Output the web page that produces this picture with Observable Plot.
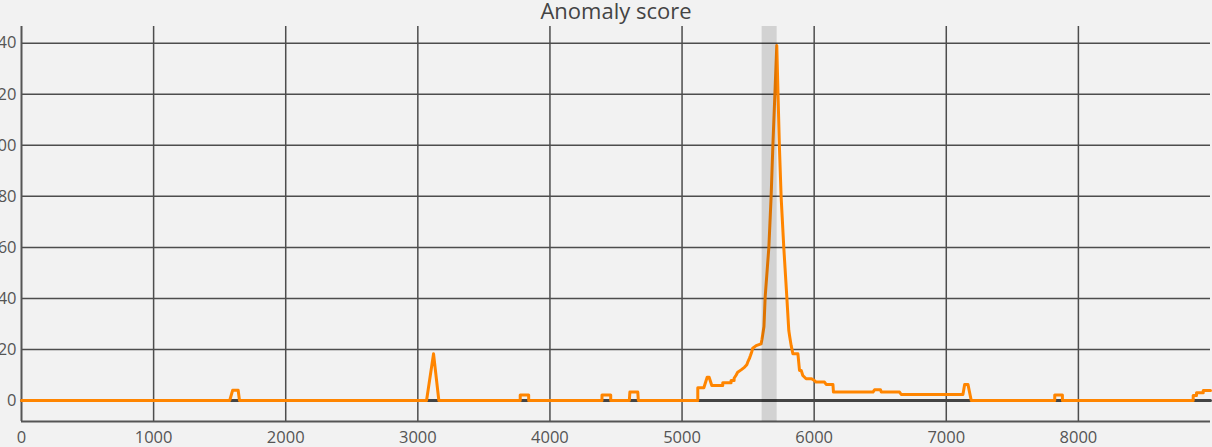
<!DOCTYPE html>
<html>
<head>
<meta charset="utf-8">
<script src="https://cdn.jsdelivr.net/npm/d3@7"></script>
<script src="https://cdn.jsdelivr.net/npm/@observablehq/plot@0.6"></script>
<style>
  html, body { margin: 0; padding: 0; background: #f2f2f2; overflow: hidden; }
  #chart svg { overflow: hidden; }
</style>
</head>
<body>
<div id="chart"></div>
<script>
// Anomaly score over time (sample index), drawn as a polyline
const scoreX = [
  0, 1576, 1598, 1640, 1650,
  3066, 3119, 3159,
  3775, 3775, 3839, 3839,
  4394, 4394, 4460, 4460,
  4601, 4605, 4665, 4669,
  5119, 5119, 5165, 5190, 5205, 5225, 5308, 5308, 5371, 5371, 5394, 5394,
  5410, 5421, 5447, 5472, 5490, 5497, 5510, 5518, 5527, 5535, 5561, 5598,
  5605, 5611, 5620, 5629, 5657, 5674, 5687, 5717,
  5727, 5737, 5750, 5770, 5793, 5808, 5815, 5826, 5839, 5877, 5889, 5902,
  5914, 5939, 5980, 6002, 6015, 6078, 6091, 6142, 6146, 6445, 6457, 6502,
  6508, 6646, 6659, 7126, 7139, 7164, 7189,
  7821, 7821, 7879, 7879,
  8869, 8869, 8894, 8894, 8945, 8945, 9000
];
const scoreY = [
  0, 0, 4, 4, 0,
  0, 18.3, 0,
  0, 2.2, 2.2, 0,
  0, 2.2, 2.2, 0,
  0, 3.3, 3.3, 0,
  0, 5, 5, 9.1, 9.1, 5.9, 5.9, 7, 7, 7.8, 7.8, 8.7,
  10, 11.1, 12, 13, 14, 15, 16.5, 17.6, 19, 20.5, 21.5, 22.2,
  24, 26, 29, 40.5, 60, 79.7, 99.3, 139.1,
  118.8, 99.3, 79.7, 60, 40.5, 27.4, 25, 21.5, 18.3, 18.3, 11.8, 11.8,
  9.8, 8.5, 8.5, 7.8, 7.2, 7.2, 6.3, 6.3, 3.3, 3.3, 4.2, 4.2,
  3.3, 3.3, 2.35, 2.35, 6.3, 6.3, 0,
  0, 2.2, 2.2, 0,
  0, 2, 2, 3, 3, 3.9, 3.9
];

// Ground-truth label series (zero throughout)
const labelX = [0, 9000];
const labelY = [0, 0];

// Highlighted anomaly window
const windowStart = [5606];
const windowEnd = [5720];

const xTicks = [0, 1000, 2000, 3000, 4000, 5000, 6000, 7000, 8000];
const yTicks = [0, 20, 40, 60, 80, 100, 120, 140];
const title = "Anomaly score";

const scoreRows = scoreX.map((x, i) => ({x, y: scoreY[i]}));
const labelRows = labelX.map((x, i) => ({x, y: labelY[i]}));
const windowRows = windowStart.map((s, i) => ({x1: s, x2: windowEnd[i]}));

const yMin = -8.23;

const chart = Plot.plot({
  width: 1212,
  height: 447,
  marginLeft: 21,
  marginRight: 2,
  marginTop: 26,
  marginBottom: 26,
  style: {
    font: "16.5px 'Open Sans', sans-serif",
    background: "#f2f2f2",
    color: "#555",
    overflow: "hidden"
  },
  x: {domain: [0, 9000], label: null},
  y: {domain: [yMin, 146.55], label: null},
  marks: [
    Plot.gridX(xTicks.filter(d => d > 0), {stroke: "#4d4d4d", strokeOpacity: 1, strokeWidth: 1.5}),
    Plot.gridY(yTicks, {stroke: "#4d4d4d", strokeOpacity: 1, strokeWidth: 1.5}),
    Plot.ruleX([0], {stroke: "#555", strokeWidth: 2}),
    Plot.ruleY([yMin], {stroke: "#555", strokeWidth: 2}),
    Plot.axisX(xTicks, {tickSize: 0, tickPadding: 10, tickFormat: d => String(d), fill: "#555", label: null}),
    Plot.axisY(yTicks, {tickSize: 0, tickPadding: 5, tickFormat: d => String(d), fill: "#555", label: null}),
    Plot.line(labelRows, {x: "x", y: "y", stroke: "#444", strokeWidth: 3}),
    Plot.line(scoreRows, {x: "x", y: "y", stroke: "#ff8500", strokeWidth: 3, strokeLinejoin: "round"}),
    Plot.rect(windowRows, {x1: "x1", x2: "x2", fill: "#000", fillOpacity: 0.13}),
    Plot.text([title], {frameAnchor: "top", lineAnchor: "middle", dy: -14.3, fontSize: 22, fill: "#444"})
  ]
});

document.getElementById("chart").append(chart);
</script>
</body>
</html>
